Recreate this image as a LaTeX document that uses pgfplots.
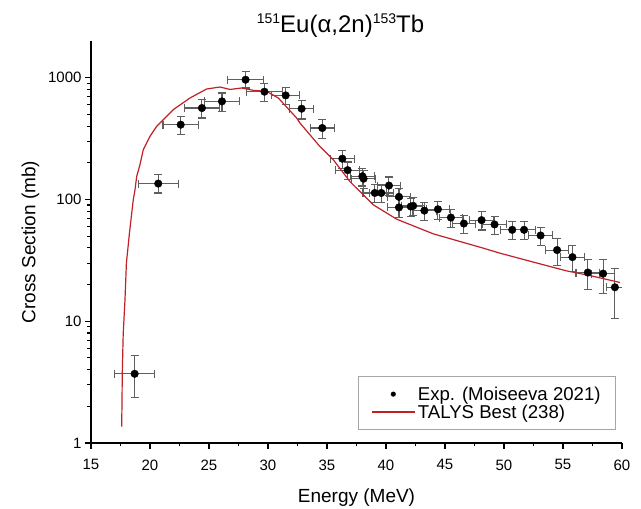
\documentclass[border=0pt]{standalone}
\usepackage{pgfplots}
\pgfplotsset{compat=1.18}
\usepackage{pgfplotstable}
\usepackage{fontspec}
\setmainfont{Liberation Sans}
\definecolor{talys}{RGB}{192,32,38}
\definecolor{errgray}{RGB}{95,95,95}

\pgfplotsset{
  dotlegend/.style={legend image code/.code={\fill[black, draw=none] (21pt,0pt) circle (2.6pt); \path[draw=none, fill=none] (0pt,0pt) -- (43pt,0pt);}},
  linelegend/.style={legend image code/.code={\draw[talys, line width=1.3pt] (0pt,0pt) -- (43pt,0pt);}},
}

\pgfplotstableread{
x y ex ep em
18.7 3.7 1.7 1.5 1.35
20.7 135 1.7 24 22
22.6 411 1.5 67 69
24.4 563 1.5 96 97
26.1 639 1.5 109 111
28.1 962 1.5 158 139
29.7 767 1.5 126 128
31.5 715 1.2 118 115
32.85 556 1.0 95 98
34.6 386 1.0 66 67
36.3 216 1.0 37 35
36.75 174 1.0 29 29
38.0 155 1.0 26 26
38.1 148 1.0 25 25
39.05 113 1.0 19 19
39.6 113 1.0 19 19
40.25 130 1.0 23 23
41.1 105 1.0 18 18
41.1 86 1.0 15 15
42.1 87.5 1.0 15 15
42.3 88.5 1.0 15 15
43.25 81 1.0 14 14
44.4 83 1.0 14 14
45.5 71 1.0 12 12
46.6 63.4 1.0 11 11
48.1 67.6 1.0 11.5 11.5
49.2 62.3 1.0 10.5 10.5
50.7 56.3 1.0 9.5 9.5
51.7 56.3 1.0 9.5 9.5
53.1 50.6 1.0 8.5 8.5
54.5 38.4 1.0 9.7 9.7
55.8 33.6 1.0 8.5 8
57.1 25.1 1.0 7 7
58.4 24.6 1.0 7.6 7.6
59.4 19.0 0.7 8.3 8.4
}\expdata

\pgfplotstableread{
x y
17.6 1.36
17.63 2.26
17.65 3.7
17.73 7.9
17.88 15
18.0 30
18.25 52
18.45 77
18.58 99
18.73 120
18.87 154
19.15 193
19.43 256
20.0 330
20.56 398
21.97 546
23.39 681
24.8 807
25.93 838
26.78 800
27.77 823
28.75 787
29.89 772
30.87 681
32.43 466
32.71 424
34.4 272
35.53 212
36.95 140
38.08 109
38.92 90.4
40.9 68.9
44.0 52.2
48.25 39.8
49.66 36.2
52.48 30.6
55.3 25.9
57.29 23.7
59.83 20.8
}\talys

\newcommand{\sups}[1]{\raisebox{9pt}{\fontsize{14}{14}\selectfont #1}}

\begin{document}
\begin{tikzpicture}
\useasboundingbox (-91pt,-66pt) rectangle (550pt,443pt);
\begin{axis}[
  at={(0,0)}, anchor=south west,
  scale only axis,
  width=531pt, height=402pt,
  xmin=15, xmax=60, ymin=1, ymax=2000,
  ymode=log,
  log ticks with fixed point,
  /pgf/number format/1000 sep={},
  /pgf/number format/assume math mode=true,
  axis x line*=bottom, axis y line*=left,
  axis line style={line width=1.3pt, -},
  xtick={15,20,...,60},
  minor x tick num=1,
  ytick={1,10,100,1000},
  tick align=outside,
  major tick length=6pt, minor tick length=3.5pt,
  every tick/.style={line width=1.1pt, black},
  tick label style={font=\fontsize{15}{18}\selectfont},
  xticklabel style={yshift=-7pt},
  xlabel={Energy (MeV)},
  ylabel={Cross Section (mb)},
  label style={font=\fontsize{19}{22}\selectfont},
  xlabel style={yshift=-12pt},
  ylabel style={yshift=2pt},
  title={\sups{151}Eu(α,2n)\sups{153}Tb},
  title style={font=\fontsize{24}{28}\selectfont, yshift=-6pt, xshift=-16pt},
  legend style={at={(1,0)}, anchor=south east, xshift=-6pt, yshift=13pt,
    draw=gray!70, line width=0.8pt, font=\fontsize{18.6}{21}\selectfont,
    row sep=-1pt, inner xsep=13pt, inner ysep=8pt},
  legend cell align=left,
]
\addplot[only marks, mark=*, mark size=3.8pt, black, forget plot,
  error bars/.cd, x dir=both, x explicit, y dir=both, y explicit,
  error bar style={errgray, line width=1.1pt},
  error mark options={rotate=90, mark size=4pt, errgray, line width=1.1pt}]
  table[x=x, y=y, x error=ex, y error plus=ep, y error minus=em]{\expdata};
\addlegendimage{dotlegend}
\addlegendentry{Exp. (Moiseeva 2021)}
\addplot[talys, line width=1.2pt, forget plot] table[x=x,y=y]{\talys};
\addlegendimage{linelegend}
\addlegendentry{TALYS Best (238)}
\end{axis}
\end{tikzpicture}
\end{document}
